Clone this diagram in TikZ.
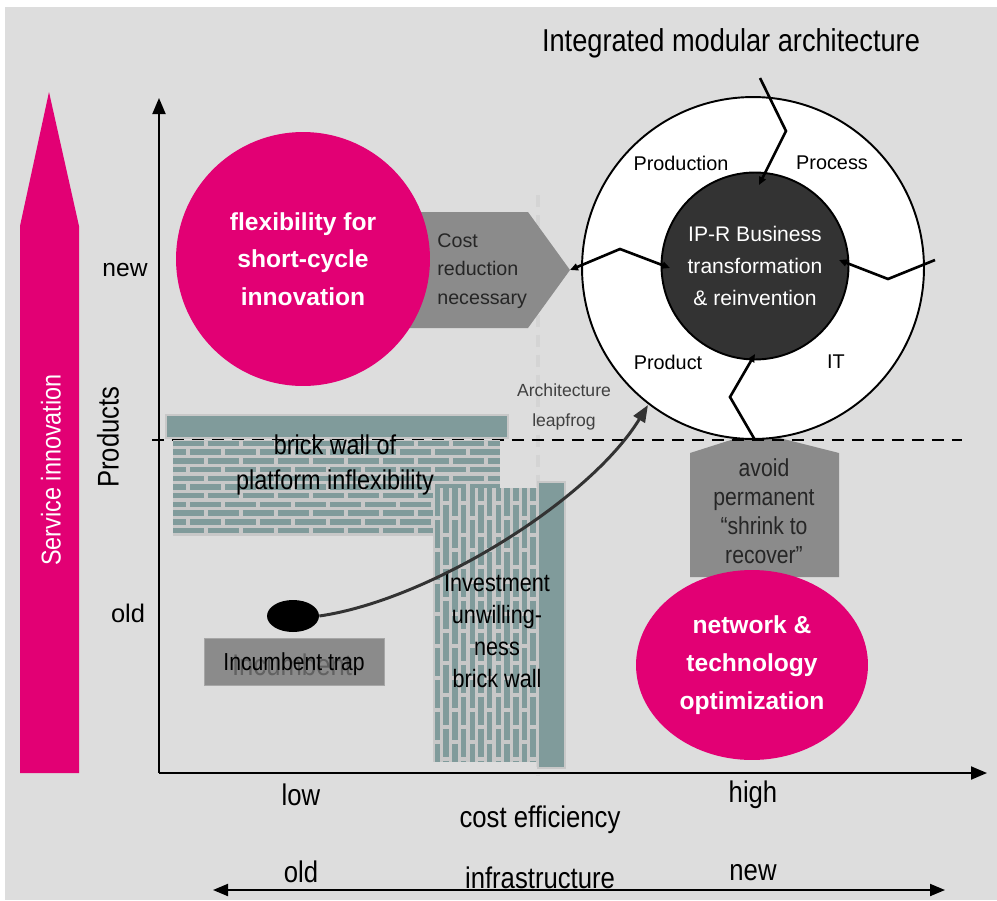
\documentclass[tikz,border=0pt]{standalone}
\usepackage{fontspec}
\setmainfont[FakeStretch=0.86]{Liberation Sans}
\newfontfamily\plainsf{Liberation Sans}
\usetikzlibrary{arrows.meta,shapes.geometric,positioning}

\definecolor{tmagenta}{RGB}{226,0,116}
\definecolor{bggray}{RGB}{221,221,221}
\definecolor{brickcol}{RGB}{128,155,155}
\definecolor{mortar}{RGB}{200,200,200}
\definecolor{boxgray}{RGB}{139,139,139}
\definecolor{coregray}{RGB}{51,51,51}

\newcommand{\fsz}[2]{\fontsize{#1}{#2}\selectfont}

\tikzset{
  lbl/.style={inner sep=0pt, align=center},
  axis/.style={line width=1.1pt, -{Triangle[length=0.32cm,width=0.26cm]}},
  zig/.style={line width=1.5pt, line join=miter, -{Triangle[length=0.16cm,width=0.14cm]}},
  pinkblob/.style={fill=tmagenta, text=white, inner sep=0pt, align=center,
    font=\plainsf\bfseries\fsz{14}{21.5}},
  bottomlbl/.style={lbl, font=\fsz{17}{20}},
}

\begin{document}
\begin{tikzpicture}[x=0.02cm,y=-0.02cm]
\useasboundingbox (0,0) rectangle (997,900);
\fill[white] (0,0) rectangle (997,900);
\fill[bggray] (5,7) rectangle (997,900);

% service innovation column
\fill[tmagenta] (20,773) -- (20,226) -- (49,92) -- (79,226) -- (79,773) -- cycle;
\node[lbl, rotate=90, text=white, font=\fsz{15.5}{18}] (service) at (51,470) {Service innovation};

% faint guide and axes
\draw[black!17, line width=2pt, dash pattern=on 0.24cm off 0.16cm] (538,195) -- (538,775);
\coordinate (O) at (159,773);
\coordinate (ytop) at (159,98);
\coordinate (xend) at (987,773);
\draw[axis] (O) -- (ytop);
\draw[axis] (O) -- (xend);
\node[lbl, font=\plainsf\fsz{14}{16}] (ynew) at (125,270) {new};
\node[lbl, font=\plainsf\fsz{14.5}{16}] (yold) at (128,613) {old};
\node[lbl, rotate=90, font=\fsz{17}{20}] (products) at (108,437) {Products};

% cost reduction and avoid-shrink shapes
\fill[boxgray] (400,212) -- (528,212) -- (570,270) -- (528,328) -- (400,328) -- cycle;
\coordinate (costtip) at (570,270);
\node[lbl, anchor=west, align=left, font=\plainsf\fsz{11.2}{16.2}, text=black!85] (cost) at (437,271) {Cost\\reduction\\necessary};
\fill[boxgray] (690,453) -- (756,432) -- (839,453) -- (839,577) -- (690,577) -- cycle;
\node[lbl, font=\fsz{14}{16.4}, text=black!85] (avoid) at (764,511) {avoid\\permanent\\“shrink to\\recover”};

\draw[line width=1.1pt, dash pattern=on 0.24cm off 0.16cm] (152,440) -- (962,440);

% brick wall of platform inflexibility
\fill[mortar] (173,440) rectangle (500,536);
\begin{scope}
  \clip (173,440) rectangle (500,536);
  \foreach \r in {0,...,10} {
    \pgfmathsetmacro{\ph}{mod(\r,2)*0.35}
    \draw[brickcol, line width=0.11cm, dash pattern=on 0.62cm off 0.08cm, dash phase=\ph cm]
      (173,{443.5+\r*8.7}) -- (500,{443.5+\r*8.7});
  }
\end{scope}
\fill[brickcol, draw=mortar, line width=0.8pt] (166,415) rectangle (508,438);

% investment unwillingness wall
\fill[mortar] (433,488) rectangle (538,762);
\begin{scope}
  \clip (433,488) rectangle (538,762);
  \foreach \c in {0,...,11} {
    \pgfmathsetmacro{\ph}{mod(\c,2)*0.3}
    \draw[brickcol, line width=0.11cm, dash pattern=on 0.56cm off 0.08cm, dash phase=\ph cm]
      ({437.5+\c*8.7},488) -- ({437.5+\c*8.7},762);
  }
\end{scope}
\fill[brickcol, draw=mortar, line width=0.8pt] (538,482) rectangle (565,768);

\node[lbl, font=\fsz{15.5}{19.8}] (platwall) at (335,465) {brick wall of\\platform inflexibility};
\node[lbl, font=\fsz{14.3}{18.1}] (invwall) at (497,631) {Investment\\unwilling-\\ness\\brick wall};

% incumbent trap
\node[fill=boxgray, draw=black!35, line width=0.5pt, minimum width=3.6cm, minimum height=0.94cm] (trapbox) at (294,662) {};
\node[anchor=base, inner sep=0pt, font=\fsz{17}{20}, text=black!62] (ghost) at (292,675) {Incumbent};
\node[anchor=base, inner sep=0pt, font=\fsz{14}{16}] (traplbl) at (294,670) {Incumbent trap};
\node[ellipse, fill=black, minimum width=1.04cm, minimum height=0.64cm, inner sep=0pt] (trap) at (293,616) {};

% leapfrog arrow
\coordinate (leaptip) at (648,405);
\draw[coregray, line width=1.7pt, -{Triangle[length=0.34cm,width=0.26cm]}]
  (trap.east) .. controls (430,600) and (590,500) .. (leaptip);
\node[lbl, font=\plainsf\fsz{10}{12}, text=black!75] (archlbl) at (564,390) {Architecture};
\node[lbl, font=\plainsf\fsz{10}{12}, text=black!75] (leaplbl) at (564,422) {leapfrog};

% pink blobs
\node[pinkblob, circle, minimum size=5.08cm] (flex) at (303,259) {flexibility for\\short-cycle\\innovation};
\node[pinkblob, ellipse, minimum width=4.64cm, minimum height=3.8cm] (netopt) at (752,665) {network \&\\technology\\optimization};

% integrated modular architecture
\node[lbl, font=\fsz{18}{20}] (title) at (731,43) {Integrated modular architecture};
\node[circle, draw, fill=white, line width=1.1pt, minimum size=6.84cm] (ring) at (753,268) {};
\node[circle, draw, fill=coregray, line width=1.1pt, minimum size=3.74cm, text=white,
  align=center, font=\plainsf\fsz{12}{18}] (core) at (755,266) {IP-R Business\\transformation\\\& reinvention};
\node[lbl, font=\plainsf\fsz{11.3}{13}] (prodn) at (681,163) {Production};
\node[lbl, font=\plainsf\fsz{11.3}{13}] (proc) at (832,163) {Process};
\node[lbl, font=\plainsf\fsz{11.3}{13}] (prodt) at (668,362) {Product};
\node[lbl, font=\plainsf\fsz{11.3}{13}] (itlbl) at (836,362) {IT};

\draw[zig] (760,78) -- (786,131) -- (759,185);
\draw[zig] (935,260) -- (888,279) -- (839,260);
\draw[zig] (755,440) -- (730,397) -- (755,354);
\draw[zig, {Triangle[length=0.16cm,width=0.14cm]}-{Triangle[length=0.16cm,width=0.14cm]}] (costtip) -- (620,249) -- (670,268);

% bottom axis labels
\node[bottomlbl] (low) at (301,795) {low};
\node[bottomlbl] (high) at (753,795) {high};
\node[bottomlbl] (costeff) at (540,820) {cost efficiency};
\node[bottomlbl] (iold) at (301,872) {old};
\node[bottomlbl] (infra) at (540,878) {infrastructure};
\node[bottomlbl] (inew) at (753,873) {new};
\coordinate (infl) at (213,890);
\coordinate (infr) at (945,890);
\draw[line width=1.1pt, {Triangle[length=0.3cm,width=0.24cm]}-{Triangle[length=0.3cm,width=0.24cm]}] (infl) -- (infr);
\end{tikzpicture}
\end{document}
